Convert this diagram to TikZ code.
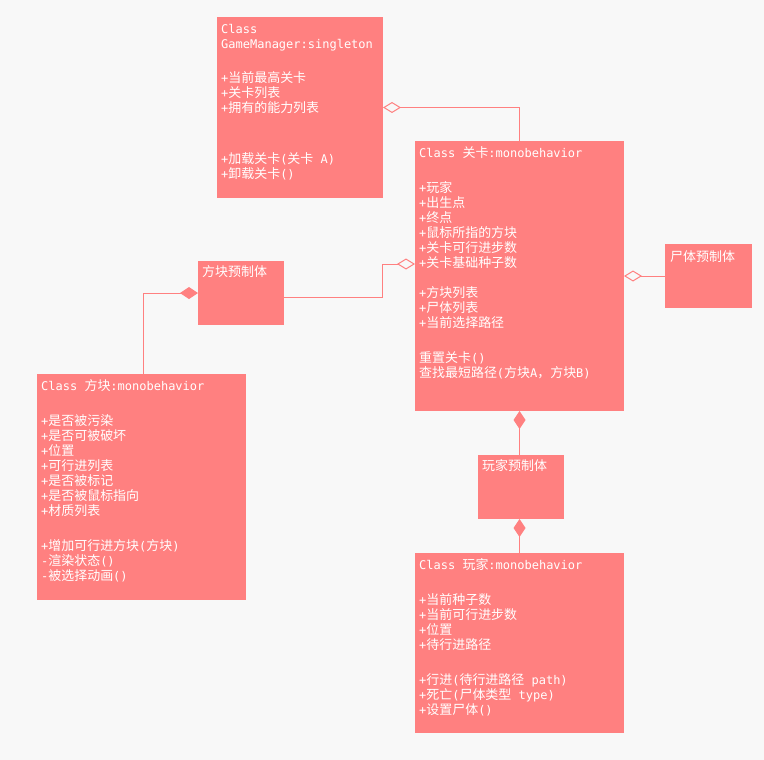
\documentclass[tikz,border=0pt]{standalone}
\usepackage{fontspec}
\setmainfont{DejaVu Sans Mono}
\newfontfamily\cjk[Scale=1.08]{Noto Sans CJK SC}
\usetikzlibrary{arrows.meta}
\definecolor{bg}{HTML}{F8F8F8}
\definecolor{salmon}{HTML}{FF8080}
\newcommand\zhs[1]{{\cjk #1}}
\newcommand\tline[4]{\node[txt] (#1) at (#2,#3) {#4};}
\begin{document}
\begin{tikzpicture}[x=1pt,y=-1pt,
  box/.style={fill=salmon,draw=none,anchor=north west,inner sep=0pt,outer sep=0pt},
  txt/.style={anchor=base west,inner sep=0pt,text=white,font=\fontsize{12}{15}\selectfont},
  agg/.style={draw=salmon,line width=1pt,-{Diamond[open,fill=bg,length=18pt,width=11pt]}},
  comp/.style={draw=salmon,line width=1pt,-{Diamond[fill=salmon,length=18pt,width=12pt]}}]
\fill[bg] (0,0) rectangle (764,760);
\useasboundingbox (0,0) rectangle (764,760);

% boxes
\node[box,minimum width=166pt,minimum height=181pt] (gm) at (217,17) {};
\node[box,minimum width=209pt,minimum height=270pt] (lk) at (415,141) {};
\node[box,minimum width=87pt,minimum height=64pt] (stp) at (665,244) {};
\node[box,minimum width=86pt,minimum height=64pt] (fkp) at (198,261) {};
\node[box,minimum width=209pt,minimum height=226pt] (fk) at (37,374) {};
\node[box,minimum width=86pt,minimum height=64pt] (wjp) at (478,455) {};
\node[box,minimum width=209pt,minimum height=180pt] (wj) at (415,553) {};

% connectors
\draw[agg] (lk.north) |- (gm.east);
\draw[agg] ([yshift=-4pt]fkp.east) -- (382,297) |- (lk.west |- 0,264);
\draw[agg] (stp.west) -- (stp.west -| lk.east);
\draw[comp] ([xshift=1.5pt]fk.north) |- (fkp.west);
\draw[comp] (wjp.north -| lk.south) -- (lk.south);
\draw[comp] (wj.north) -- (wj.north |- wjp.south);

% GameManager
\tline{gm1}{221}{33.5}{Class}
\tline{gm2}{221}{48.5}{GameManager:singleton}
\tline{gm3}{221}{82.5}{+\zhs{当前最高关卡}}
\tline{gm4}{221}{97.5}{+\zhs{关卡列表}}
\tline{gm5}{221}{112.5}{+\zhs{拥有的能力列表}}
\tline{gm6}{221}{163.5}{+\zhs{加载关卡}(\zhs{关卡} A)}
\tline{gm7}{221}{178.5}{+\zhs{卸载关卡}()}

% 关卡
\tline{lk1}{419}{157.5}{Class \zhs{关卡}:monobehavior}
\tline{lk2}{419}{192.5}{+\zhs{玩家}}
\tline{lk3}{419}{207.5}{+\zhs{出生点}}
\tline{lk4}{419}{222.5}{+\zhs{终点}}
\tline{lk5}{419}{237.5}{+\zhs{鼠标所指的方块}}
\tline{lk6}{419}{252.5}{+\zhs{关卡可行进步数}}
\tline{lk7}{419}{267.5}{+\zhs{关卡基础种子数}}
\tline{lk8}{419}{297.5}{+\zhs{方块列表}}
\tline{lk9}{419}{312.5}{+\zhs{尸体列表}}
\tline{lk10}{419}{327.5}{+\zhs{当前选择路径}}
\tline{lk11}{419}{362.5}{\zhs{重置关卡}()}
\tline{lk12}{419}{377.5}{\zhs{查找最短路径}(\zhs{方块}A\zhs{，}\zhs{方块}B)}

% 方块
\tline{fk1}{41}{390.5}{Class \zhs{方块}:monobehavior}
\tline{fk2}{41}{425.5}{+\zhs{是否被污染}}
\tline{fk3}{41}{440.5}{+\zhs{是否可被破坏}}
\tline{fk4}{41}{455.5}{+\zhs{位置}}
\tline{fk5}{41}{470.5}{+\zhs{可行进列表}}
\tline{fk6}{41}{485.5}{+\zhs{是否被标记}}
\tline{fk7}{41}{500.5}{+\zhs{是否被鼠标指向}}
\tline{fk8}{41}{515.5}{+\zhs{材质列表}}
\tline{fk9}{41}{550.5}{+\zhs{增加可行进方块}(\zhs{方块})}
\tline{fk10}{41}{565.5}{-\zhs{渲染状态}()}
\tline{fk11}{41}{580.5}{-\zhs{被选择动画}()}

% 玩家
\tline{wj1}{419}{569.5}{Class \zhs{玩家}:monobehavior}
\tline{wj2}{419}{604}{+\zhs{当前种子数}}
\tline{wj3}{419}{619}{+\zhs{当前可行进步数}}
\tline{wj4}{419}{634}{+\zhs{位置}}
\tline{wj5}{419}{649}{+\zhs{待行进路径}}
\tline{wj6}{419}{684.5}{+\zhs{行进}(\zhs{待行进路径} path)}
\tline{wj7}{419}{699.5}{+\zhs{死亡}(\zhs{尸体类型} type)}
\tline{wj8}{419}{714.5}{+\zhs{设置尸体}()}

% prefabs
\tline{fkpt}{202}{276.5}{\zhs{方块预制体}}
\tline{stpt}{670}{261.5}{\zhs{尸体预制体}}
\tline{wjpt}{482}{470.5}{\zhs{玩家预制体}}
\end{tikzpicture}
\end{document}
